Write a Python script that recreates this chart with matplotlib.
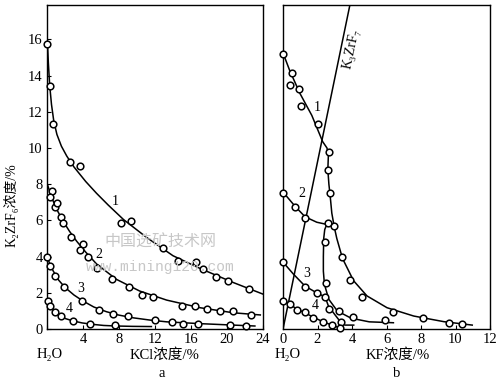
# K2ZrF6 solubility in KCl and KF solutions (panels a and b)

import matplotlib
matplotlib.use('Agg')
import matplotlib.pyplot as plt

plt.rcParams['font.family'] = ['Liberation Serif', 'DejaVu Serif', 'Noto Sans CJK SC']
plt.rcParams['font.size'] = 10

# ---- panel a: KCl ----
# measured points
a1_x = [0.05, 0.3, 0.7, 2.6, 3.7, 8.2, 9.3, 12.85, 14.5, 16.6, 17.3, 18.8, 20.1, 22.4]
a1_y = [15.75, 13.4, 11.3, 9.2, 9.0, 5.85, 5.95, 4.45, 3.75, 3.7, 3.3, 2.9, 2.65, 2.2]
a2_x = [0.5, 0.3, 0.9, 1.15, 1.6, 1.8, 2.7, 4.0, 3.7, 4.6, 5.6, 7.2, 9.1, 10.5, 11.8,
        15.0, 16.4, 17.8, 19.2, 20.7, 22.7]
a2_y = [7.6, 7.3, 6.75, 6.95, 6.2, 5.85, 5.07, 4.7, 4.37, 4.0, 3.37, 2.75, 2.3, 1.9, 1.78,
        1.3, 1.28, 1.09, 1.0, 1.0, 0.78]
a3_x = [0.0, 0.3, 0.9, 1.9, 3.85, 5.8, 7.3, 9.0, 12.0, 13.85, 15.1, 16.8, 20.3, 22.1]
a3_y = [4.0, 3.5, 2.95, 2.3, 1.55, 1.07, 0.84, 0.7, 0.48, 0.4, 0.3, 0.3, 0.22, 0.17]
a4_x = [0.1, 0.35, 0.9, 1.6, 2.9, 4.8, 7.6]
a4_y = [1.55, 1.3, 0.97, 0.7, 0.43, 0.3, 0.24]

# drawn curves
a1_cx = [0.05, 0.15, 0.3, 0.5, 0.75, 1.1, 1.6, 2.2, 3.0, 4.3, 5.5, 6.8, 8.5, 11.1, 14.0, 17.0,
         20.7, 24.0]
a1_cy = [15.8, 14.7, 13.45, 12.4, 11.5, 10.75, 10.1, 9.55, 8.95, 8.15, 7.5, 6.85, 6.05, 5.05,
         4.05, 3.35, 2.57, 1.93]
a2_cx = [0.0, 0.3, 0.7, 1.2, 1.8, 2.5, 3.3, 4.3, 5.5, 7.7, 10.3, 13.3, 17.0, 20.7, 23.7]
a2_cy = [8.05, 7.6, 7.05, 6.5, 5.95, 5.4, 4.85, 4.25, 3.6, 2.75, 2.1, 1.6, 1.18, 0.9, 0.78]
a3_cx = [0.0, 0.3, 0.7, 1.3, 2.0, 3.0, 4.0, 5.2, 6.6, 8.0, 9.6, 11.4, 13.3, 17.0, 20.7, 23.1]
a3_cy = [4.05, 3.6, 3.2, 2.7, 2.3, 1.88, 1.55, 1.22, 0.96, 0.77, 0.62, 0.5, 0.4, 0.3, 0.22, 0.17]
a4_cx = [0.0, 0.2, 0.5, 0.9, 1.44, 2.1, 2.9, 3.9, 5.1, 6.3, 7.7, 9.5, 11.6]
a4_cy = [1.65, 1.42, 1.2, 0.95, 0.74, 0.57, 0.45, 0.34, 0.26, 0.2, 0.17, 0.15, 0.14]

# ---- panel b: KF ----
b1_x = [0.0, 0.54, 0.4, 0.93, 1.03, 2.0, 2.67, 2.58, 2.73, 2.97, 3.41, 3.9, 4.56, 6.4, 8.1, 9.65, 10.4]
b1_y = [15.2, 14.15, 13.5, 13.25, 12.3, 11.3, 9.8, 8.8, 7.5, 5.67, 4.0, 2.72, 1.76, 0.96, 0.6, 0.35, 0.26]
b2_x = [0.0, 0.7, 1.28, 2.58, 2.44, 2.5, 3.25, 4.07, 5.93]
b2_y = [7.5, 6.75, 6.15, 5.85, 4.8, 2.54, 1.0, 0.65, 0.5]
b3_x = [0.0, 1.28, 1.96, 2.44, 2.69, 3.38]
b3_y = [3.7, 2.35, 2.0, 1.78, 1.1, 0.38]
b4_x = [0.0, 0.4, 0.8, 1.28, 1.76, 2.34, 2.83, 3.31]
b4_y = [1.57, 1.4, 1.04, 0.94, 0.63, 0.39, 0.22, 0.07]

b1_cx = [0.0, 0.4, 0.99, 1.67, 2.3, 2.55, 2.63, 2.6, 2.66, 2.73, 2.83, 2.98, 3.12, 3.45, 4.09,
         4.87, 6.03, 7.58, 9.32, 10.97]
b1_cy = [15.25, 14.25, 13.0, 11.8, 10.35, 10.0, 9.6, 8.8, 8.0, 7.4, 6.4, 5.6, 5.0, 3.9, 2.67,
         1.83, 1.18, 0.72, 0.41, 0.22]
b2_cx = [0.0, 0.7, 1.28, 1.96, 2.54, 2.42, 2.36, 2.34, 2.34, 2.4, 2.65, 3.15, 3.95, 5.0, 6.4]
b2_cy = [7.57, 6.78, 6.2, 5.9, 5.78, 5.5, 5.0, 4.0, 3.2, 2.48, 1.65, 1.0, 0.6, 0.4, 0.35]
b3_cx = [0.0, 0.6, 1.28, 1.96, 2.44, 2.63, 3.02, 3.41, 3.6, 4.1]
b3_cy = [3.7, 3.04, 2.37, 2.0, 1.78, 1.28, 0.78, 0.3, 0.22, 0.22]
b4_cx = [0.0, 0.4, 0.8, 1.28, 1.76, 2.34, 2.83, 3.31]
b4_cy = [1.6, 1.38, 1.1, 0.9, 0.65, 0.4, 0.22, 0.06]

# K3ZrF7 line
k3_x = [0.0, 3.9]
k3_y = [0.0, 18.0]

fig = plt.figure(figsize=(5, 3.8), dpi=100)
ax1 = fig.add_axes([0.094, 0.134, 0.432, 0.853])
ax2 = fig.add_axes([0.566, 0.134, 0.414, 0.853])

lw = 1.1
mk = dict(ls='none', marker='o', ms=4.8, mfc='white', mec='black', mew=1.1, zorder=3, clip_on=False)

# panel a
for cx, cy in [(a1_cx, a1_cy), (a2_cx, a2_cy), (a3_cx, a3_cy), (a4_cx, a4_cy)]:
    ax1.plot(cx, cy, 'k-', lw=lw)
for px, py in [(a1_x, a1_y), (a2_x, a2_y), (a3_x, a3_y), (a4_x, a4_y)]:
    ax1.plot(px, py, **mk)

ax1.text(7.6, 7.05, '1', ha='center', va='center')
ax1.text(5.8, 4.1, '2', ha='center', va='center')
ax1.text(3.7, 2.25, '3', ha='center', va='center')
ax1.text(2.5, 1.15, '4', ha='center', va='center')

ax1.set_xlim(0, 24)
ax1.set_ylim(0, 17.9)
ax1.set_xticks([0, 4, 8, 12, 16, 20, 24])
ax1.set_xticklabels(['', '4', '8', '12', '16', '20', '24'])
ax1.set_yticks([0, 2, 4, 6, 8, 10, 12, 14, 16])
ax1.tick_params(direction='in', length=3, width=0.8, labelsize=10.5, pad=3)

# panel b
ax2.plot(k3_x, k3_y, 'k-', lw=lw)
for cx, cy in [(b1_cx, b1_cy), (b2_cx, b2_cy), (b3_cx, b3_cy), (b4_cx, b4_cy)]:
    ax2.plot(cx, cy, 'k-', lw=lw)
for px, py in [(b1_x, b1_y), (b2_x, b2_y), (b3_x, b3_y), (b4_x, b4_y)]:
    ax2.plot(px, py, **mk)

ax2.text(1.96, 12.25, '1', ha='center', va='center')
ax2.text(1.08, 7.5, '2', ha='center', va='center')
ax2.text(1.36, 3.05, '3', ha='center', va='center')
ax2.text(1.86, 1.28, '4', ha='center', va='center')
ax2.text(3.94, 15.5, 'K₃ZrF₇', rotation=78, ha='center', va='center', fontsize=10)

ax2.set_xlim(0, 12)
ax2.set_ylim(0, 17.9)
ax2.set_xticks([0, 2, 4, 6, 8, 10, 12])
ax2.set_yticks([])
ax2.tick_params(direction='in', length=3, width=0.8, labelsize=10.5, pad=3)

for ax in (ax1, ax2):
    for s in ax.spines.values():
        s.set_linewidth(1.0)

# axis texts
fig.text(0.022, 0.46, 'K₂ZrF₆浓度/%', rotation=90, ha='center', va='center', fontsize=10)
fig.text(0.10, 0.066, 'H₂O', ha='center', va='center', fontsize=10.5)
fig.text(0.33, 0.066, 'KCl浓度/%', ha='center', va='center', fontsize=10.5)
fig.text(0.324, 0.018, 'a', ha='center', va='center', fontsize=10.5)
fig.text(0.576, 0.066, 'H₂O', ha='center', va='center', fontsize=10.5)
fig.text(0.796, 0.066, 'KF浓度/%', ha='center', va='center', fontsize=10.5)
fig.text(0.794, 0.018, 'b', ha='center', va='center', fontsize=10.5)

# watermark
fig.text(0.321, 0.362, '中国选矿技术网', ha='center', va='center', fontsize=11.5,
         color='0.78', family=['Noto Sans CJK SC'], zorder=0)
fig.text(0.32, 0.298, 'www.mining120.com', ha='center', va='center', fontsize=10.5,
         color='0.78', family=['Liberation Mono'], zorder=0)

plt.savefig('out.png', dpi=100)
